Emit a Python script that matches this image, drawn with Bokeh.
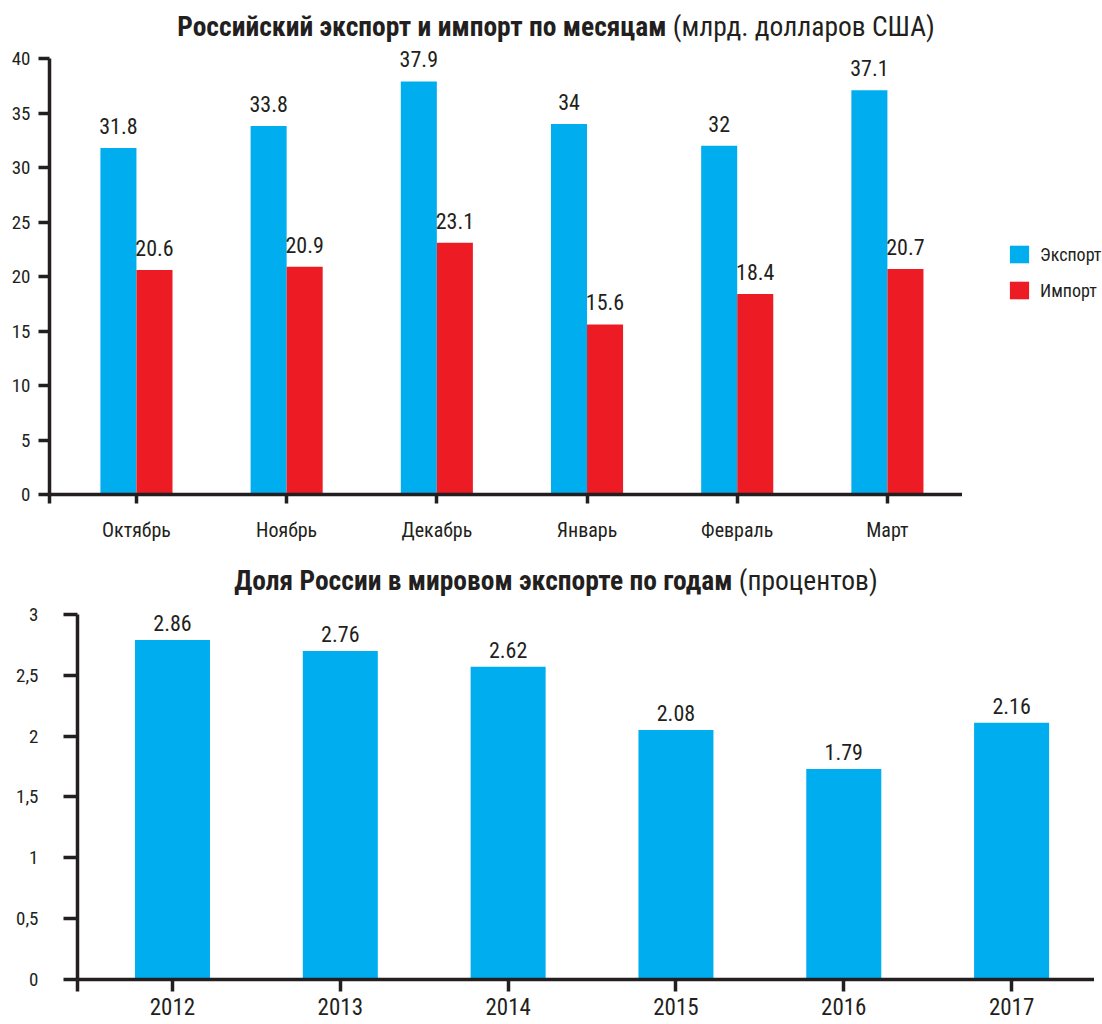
from bokeh.plotting import figure
from bokeh.models import (ColumnDataSource, Range1d, FixedTicker, LabelSet,
                          Legend, LegendItem, Div, CustomJSTickFormatter)
from bokeh.layouts import column, row
from bokeh.core.properties import value
from bokeh.embed import file_html
from bokeh.resources import INLINE

# ---------------- data ----------------
months = ["Октябрь", "Ноябрь", "Декабрь", "Январь", "Февраль", "Март"]
export_vals = [31.8, 33.8, 37.9, 34.0, 32.0, 37.1]
import_vals = [20.6, 20.9, 23.1, 15.6, 18.4, 20.7]
export_labels = ["31.8", "33.8", "37.9", "34", "32", "37.1"]
import_labels = ["20.6", "20.9", "23.1", "15.6", "18.4", "20.7"]
y1_ticks = [0, 5, 10, 15, 20, 25, 30, 35, 40]
series_names = ["Экспорт", "Импорт"]

years = ["2012", "2013", "2014", "2015", "2016", "2017"]
share_bar = [2.79, 2.70, 2.57, 2.05, 1.73, 2.11]      # bar heights as drawn
share_labels = ["2.86", "2.76", "2.62", "2.08", "1.79", "2.16"]  # printed values
y2_ticks = [0, 0.5, 1, 1.5, 2, 2.5, 3]
y2_tick_labels = ["0", "0,5", "1", "1,5", "2", "2,5", "3"]

title1_bold = "Российский экспорт и импорт по месяцам"
title1_rest = "(млрд. долларов США)"
title2_bold = "Доля России в мировом экспорте по годам"
title2_rest = "(процентов)"

# ---------------- style ----------------
FONT = "'Roboto Condensed', 'DejaVu Sans Condensed', 'Liberation Sans Narrow', 'Noto Sans', sans-serif"
DARK = "#231f20"
BLUE = "#00aeef"
RED = "#ed1c24"
W = 1094


def title_div(bold, rest, h, shift):
    html = (f'<div style="width:{W-18}px;margin-left:18px;text-align:center;'
            f'position:relative;top:{shift}px;'
            f'font-family:{FONT};font-size:27.5px;line-height:{h}px;'
            f'color:{DARK};white-space:nowrap"><b>{bold}</b> {rest}</div>')
    return Div(text=html, width=W, height=h, margin=0)


def cat_formatter(names):
    return CustomJSTickFormatter(args=dict(names=names), code="""
        const i = Math.round(tick);
        if (Math.abs(tick - i) < 1e-6 && i >= 0 && i < names.length) return names[i];
        return "";
    """)


def style(p, xtick_out, ytick_out, ystandoff, xstandoff, xfs):
    p.outline_line_color = None
    p.xgrid.visible = False
    p.ygrid.visible = False
    p.background_fill_color = "white"
    p.border_fill_color = "white"
    for ax in (p.xaxis[0], p.yaxis[0]):
        ax.axis_line_color = DARK
        ax.axis_line_width = 3.5
        ax.major_tick_line_color = DARK
        ax.major_tick_line_width = 3.5
        ax.minor_tick_line_color = None
        ax.major_tick_in = 0
        ax.major_label_text_font = FONT
        ax.major_label_text_color = DARK
    p.xaxis.major_tick_out = xtick_out
    p.yaxis.major_tick_out = ytick_out
    p.yaxis.major_label_standoff = ystandoff
    p.xaxis.major_label_standoff = xstandoff
    p.yaxis.major_label_text_font_size = "19px"
    p.xaxis.major_label_text_font_size = xfs


# ---------------- chart 1 ----------------
idx = list(range(len(months)))
off = 0.12
bw1 = 0.24
src1 = ColumnDataSource(dict(
    xe=[i - off for i in idx], xi=[i + off for i in idx],
    ex=export_vals, im=import_vals, exl=export_labels, iml=import_labels))

x1_start = -0.579
p1 = figure(width=962, height=510, x_range=Range1d(x1_start, 5.5),
            y_range=Range1d(0, 40.92), output_backend="svg",
            toolbar_location=None, min_border_left=49, min_border_right=0,
            min_border_top=2, min_border_bottom=62, frame_align=False)
r_ex = p1.vbar(x="xe", top="ex", width=bw1, bottom=0, source=src1,
               fill_color=BLUE, line_color=None)
r_im = p1.vbar(x="xi", top="im", width=bw1, bottom=0, source=src1,
               fill_color=RED, line_color=None)
style(p1, 9, 11, 8, 14, "20px")
p1.yaxis.bounds = (y1_ticks[0], y1_ticks[-1])
p1.xaxis.ticker = FixedTicker(ticks=[x1_start + 0.002] + idx)
p1.xaxis.formatter = cat_formatter(months)
p1.yaxis.ticker = FixedTicker(ticks=y1_ticks)

for xcol, ycol, tcol in (("xe", "ex", "exl"), ("xi", "im", "iml")):
    p1.add_layout(LabelSet(x=xcol, y=ycol, text=tcol, source=src1,
                           text_align="center", text_baseline="alphabetic",
                           y_offset=14, text_font=value(FONT),
                           text_font_size="22px", text_color=DARK))

# legend panel (separate narrow figure to the right of chart 1)
pl = figure(width=140, height=510, x_range=Range1d(0, 1), y_range=Range1d(0, 1),
            output_backend="svg", toolbar_location=None, min_border=0,
            min_border_left=0, min_border_right=0, min_border_top=0,
            min_border_bottom=0, frame_align=False)
pl.axis.visible = False
pl.grid.visible = False
pl.outline_line_color = None
l_ex = pl.vbar(x="xe", top="ex", width=bw1, source=src1, fill_color=BLUE,
               line_color=None, visible=False)
l_im = pl.vbar(x="xi", top="im", width=bw1, source=src1, fill_color=RED,
               line_color=None, visible=False)
legend = Legend(items=[LegendItem(label=series_names[0], renderers=[l_ex]),
                       LegendItem(label=series_names[1], renderers=[l_im])],
                location=(45, 255), orientation="vertical",
                glyph_width=24, glyph_height=22, label_height=22,
                label_width=60, spacing=14, padding=0, margin=0,
                label_standoff=9, border_line_color=None,
                background_fill_alpha=0, inactive_fill_alpha=0,
                label_text_font=FONT, label_text_font_size="18px",
                label_text_color=DARK)
pl.add_layout(legend)

# ---------------- chart 2 ----------------
idx2 = list(range(len(years)))
src2 = ColumnDataSource(dict(x=idx2, v=share_bar, lab=share_labels))
x2_start = -0.566
p2 = figure(width=W, height=422, x_range=Range1d(x2_start, 5.494),
            y_range=Range1d(0, 3.082), output_backend="svg",
            toolbar_location=None, min_border_left=77, min_border_right=0,
            min_border_top=2, min_border_bottom=45, frame_align=False)
p2.vbar(x="x", top="v", width=0.447, bottom=0, source=src2,
        fill_color=BLUE, line_color=None)
style(p2, 12, 14, 25, 6, "23px")
p2.yaxis.bounds = (y2_ticks[0], y2_ticks[-1])
p2.xaxis.ticker = FixedTicker(ticks=[x2_start + 0.002] + idx2)
p2.xaxis.formatter = cat_formatter(years)
p2.yaxis.ticker = FixedTicker(ticks=y2_ticks)
p2.yaxis.formatter = CustomJSTickFormatter(
    args=dict(tvals=y2_ticks, tlabs=y2_tick_labels), code="""
        for (let i = 0; i < tvals.length; i++)
            if (Math.abs(tvals[i] - tick) < 1e-6) return tlabs[i];
        return "";
    """)
p2.add_layout(LabelSet(x="x", y="v", text="lab", source=src2,
                       text_align="center", text_baseline="alphabetic",
                       y_offset=9, text_font=value(FONT),
                       text_font_size="22px", text_color=DARK))

layout = column(title_div(title1_bold, title1_rest, 46, 4),
                row(p1, pl, spacing=0),
                title_div(title2_bold, title2_rest, 46, 2), p2, spacing=0)

open("out.html", "w").write(file_html(layout, INLINE, title="chart"))
